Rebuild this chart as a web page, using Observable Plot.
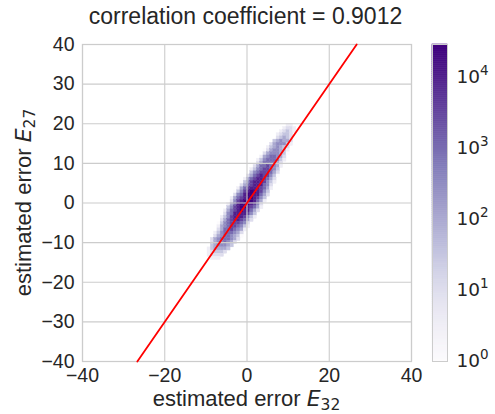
<!DOCTYPE html>
<html>
<head>
<meta charset="utf-8">
<script src="https://cdn.jsdelivr.net/npm/d3@7"></script>
<script src="https://cdn.jsdelivr.net/npm/@observablehq/plot@0.6"></script>
<style>
  html, body { margin: 0; padding: 0; background: #ffffff; }
  #chart { position: relative; width: 495px; height: 414px; overflow: hidden; }
  #chart svg { position: absolute; left: 0; top: 0; }
</style>
</head>
<body>
<div id="chart"></div>
<script>
// ---------------- data ----------------
const titleText = "correlation coefficient = 0.9012";
const axisWord = "estimated error ";
const axisSymbol = "E";
const xSub = "32";
const ySub = "27";
const xTicks = [-40, -20, 0, 20, 40];
const yTicks = [-40, -30, -20, -10, 0, 10, 20, 30, 40];
const cbarTicks = [1, 10, 100, 1000, 10000];
const countMax = 28800;           // top of the colour bar
const binWidth = 0.8;             // 100 bins over [-40, 40]
const gridX0 = -11.2;             // left edge of column 0
const gridY0 = -14.4;             // bottom edge of the lowest row
const levelStep = 0.5;            // each digit = 0.5 in log10(count)
// 2D histogram, rows from top (y 19.2..20) to bottom (y -14.4..-13.6)
// rowStart: first occupied column; rowLevels: digit per cell, count = 10^(digit*0.5)
const rowStart = [26,25,24,23,23,22,21,20,19,19,18,17,17,16,15,15,14,13,12,12,11,10,10,9,9,8,8,7,7,6,6,5,5,5,4,4,3,3,3,2,2,2,3];
const rowLevels = ["11","1221","12321","12332","23432","345442","2455531","1345432","02455431","24555430",
  "14566542","135666531","24666642","246676541","135677653","356777642","2467877530","1467887642","03578887531","2467888652",
  "14678887641","03578998753","25689988642","14678998753","25789998641","14689998752","35789987641","14678988642","2568888753","13578887531",
  "2467887642","0356777652","1456776531","246676541","135666542","245665430","245666542","24556542","3455543","1344443",
  "123332","12222","111"];
// fitted line (y = 1.5 x) end points
const fitX = [-26.67, 26.67];
const fitY = [-40, 40];

// ---------------- build tables ----------------
const cells = [];
rowLevels.forEach((s, i) => {
  const y1 = gridY0 + (rowLevels.length - 1 - i) * binWidth;
  [...s].forEach((ch, k) => {
    const x1 = gridX0 + (rowStart[i] + k) * binWidth;
    cells.push({x1, x2: x1 + binWidth, y1, y2: y1 + binWidth, count: Math.pow(10, (+ch) * levelStep)});
  });
});
const fit = fitX.map((x, i) => ({x, y: fitY[i]}));

const colorOpts = {type: "log", scheme: "purples", domain: [1, countMax]};
const textColor = "#262626";
const gridColor = "#cccccc";

// ---------------- main plot ----------------
const main = Plot.plot({
  width: 495, height: 414,
  marginLeft: 82, marginRight: 84, marginTop: 44, marginBottom: 53,
  style: {fontFamily: '"Liberation Sans", Arial, sans-serif', fontSize: "19.5px", color: textColor, background: "transparent"},
  x: {domain: [-40, 40], ticks: xTicks, tickSize: 0, tickPadding: 7, label: null},
  y: {domain: [-40, 40], ticks: yTicks, tickSize: 0, tickPadding: 8, label: null},
  color: colorOpts,
  marks: [
    Plot.rect(cells, {x1: "x1", x2: "x2", y1: "y1", y2: "y2", fill: "count", stroke: "count", strokeWidth: 0.4}),
    Plot.ruleX(xTicks, {stroke: gridColor, strokeWidth: 1.1}),
    Plot.ruleY(yTicks, {stroke: gridColor, strokeWidth: 1.1}),
    Plot.frame({stroke: gridColor, strokeWidth: 1.25}),
    Plot.line(fit, {x: "x", y: "y", stroke: "#ff0000", strokeWidth: 1.8})
  ]
});

// ---------------- colour bar ----------------
const rampN = 160;
const lmax = Math.log10(countMax);
const ramp = d3.range(rampN).map(i => ({
  y1: Math.pow(10, i * lmax / rampN),
  y2: Math.pow(10, (i + 1) * lmax / rampN),
  v: Math.pow(10, (i + 0.5) * lmax / rampN)
}));
const cbar = Plot.plot({
  width: 495, height: 414,
  marginLeft: 432, marginRight: 48, marginTop: 44, marginBottom: 53,
  style: {fontFamily: '"DejaVu Sans", sans-serif', fontSize: "18.5px", color: textColor, background: "transparent"},
  x: {domain: [0, 1], axis: null},
  y: {type: "log", domain: [1, countMax], axis: "right", ticks: cbarTicks,
      tickFormat: d => String(Math.round(Math.log10(d))), tickSize: 0, tickPadding: 9, label: null},
  color: colorOpts,
  marks: [
    Plot.rect(ramp, {x1: 0, x2: 1, y1: "y1", y2: "y2", fill: "v", stroke: "v", strokeWidth: 0.6}),
    Plot.frame({stroke: gridColor, strokeWidth: 1})
  ]
});
d3.select(cbar).selectAll("text").each(function () {
  const e = this.textContent;
  const t = d3.select(this);
  t.text("");
  t.append("tspan").text("10");
  t.append("tspan").attr("dy", "-8px").attr("font-size", "13.5px").text(e);
});

// ---------------- title and axis labels ----------------
const labels = d3.create("svg").attr("width", 495).attr("height", 414)
  .style("font-family", '"Liberation Sans", Arial, sans-serif').style("fill", textColor);
labels.append("text").attr("x", 245.5).attr("y", 24).attr("text-anchor", "middle")
  .attr("font-size", "23px").attr("fill", textColor).text(titleText);

function axisLabel(g, sub) {
  g.append("tspan").text(axisWord);
  g.append("tspan").attr("font-family", '"DejaVu Sans", sans-serif').attr("font-style", "italic").text(axisSymbol);
  g.append("tspan").attr("font-family", '"DejaVu Sans", sans-serif').attr("font-size", "15.5px").attr("dy", "4px").text(sub);
}
const xl = labels.append("text").attr("x", 246.5).attr("y", 406).attr("text-anchor", "middle")
  .attr("font-size", "22px").attr("fill", textColor);
axisLabel(xl, xSub);
const yl = labels.append("text").attr("transform", "translate(31,202.5) rotate(-90)").attr("text-anchor", "middle")
  .attr("font-size", "22px").attr("fill", textColor);
axisLabel(yl, ySub);

const chart = document.getElementById("chart");
chart.appendChild(main);
chart.appendChild(cbar);
chart.appendChild(labels.node());
</script>
</body>
</html>
